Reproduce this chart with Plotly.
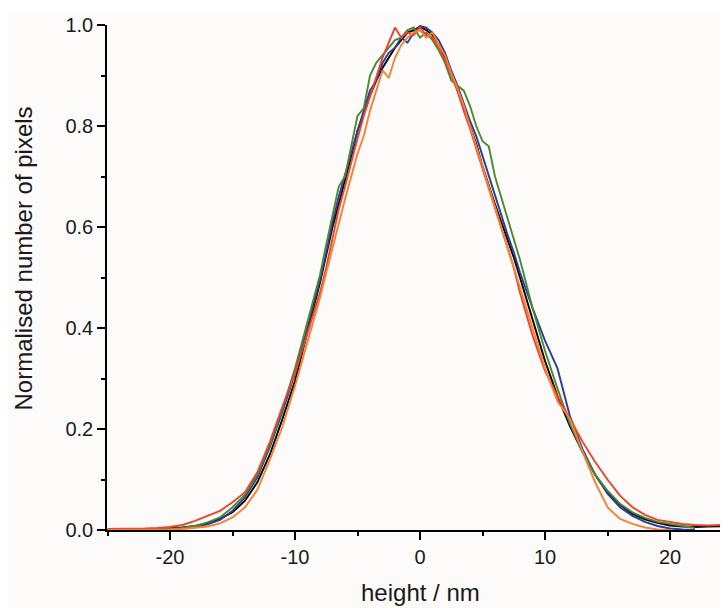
import plotly.graph_objects as go

# x grid (nm)
x_vals = [-25, -24, -23, -22, -21, -20, -19, -18, -17, -16, -15, -14, -13, -12, -11, -10, -9,
          -8, -7.5, -7, -6.5, -6, -5.5, -5, -4.5, -4, -3.5, -3, -2.5, -2, -1.5, -1, -0.5,
          0, 0.5, 1, 1.5, 2, 2.5, 3, 3.5, 4, 4.5, 5, 5.5, 6, 6.5, 7, 7.5, 8,
          9, 10, 11, 12, 13, 14, 15, 16, 17, 18, 19, 20, 21, 22, 23, 24, 25]

black_vals = [0.000, 0.000, 0.000, 0.001, 0.002, 0.003, 0.005, 0.008, 0.013, 0.022, 0.035, 0.058, 0.095, 0.15, 0.22, 0.295, 0.39,
              0.49, 0.545, 0.60, 0.645, 0.69, 0.74, 0.79, 0.825, 0.86, 0.89, 0.915, 0.935, 0.955, 0.97, 0.985, 0.99,
              0.997, 0.99, 0.98, 0.96, 0.935, 0.905, 0.87, 0.835, 0.80, 0.765, 0.72, 0.68, 0.645, 0.61, 0.575, 0.54, 0.50,
              0.415, 0.335, 0.265, 0.205, 0.155, 0.11, 0.075, 0.05, 0.032, 0.021, 0.014, 0.009, 0.007, 0.006, 0.007, 0.008, 0.008]

blue_vals = [0.0, 0.0, 0.0, 0.0, 0.001, 0.002, 0.003, 0.006, 0.011, 0.02, 0.038, 0.065, 0.105, 0.165, 0.235, 0.31, 0.40,
             0.495, 0.55, 0.61, 0.66, 0.705, 0.75, 0.79, 0.83, 0.87, 0.89, 0.925, 0.945, 0.955, 0.975, 0.965, 0.985,
             0.998, 0.995, 0.985, 0.97, 0.945, 0.91, 0.88, 0.845, 0.81, 0.78, 0.74, 0.70, 0.66, 0.62, 0.585, 0.55, 0.51,
             0.44, 0.375, 0.32, 0.225, 0.16, 0.11, 0.072, 0.045, 0.028, 0.016, 0.008, 0.003, 0.001, 0.0, None, None, None]

green_vals = [0.0, 0.0, 0.0, 0.0, 0.001, 0.002, 0.004, 0.008, 0.015, 0.025, 0.045, 0.07, 0.11, 0.17, 0.24, 0.32, 0.41,
              0.505, 0.565, 0.62, 0.68, 0.70, 0.76, 0.82, 0.835, 0.90, 0.925, 0.94, 0.955, 0.97, 0.975, 0.99, 0.995,
              0.975, 0.985, 0.97, 0.95, 0.925, 0.89, 0.88, 0.87, 0.84, 0.80, 0.77, 0.76, 0.70, 0.66, 0.62, 0.575, 0.535,
              0.44, 0.355, 0.28, 0.21, 0.155, 0.11, 0.078, 0.052, 0.035, 0.024, 0.016, 0.012, 0.009, 0.004, None, None, None]

red_vals = [0.002, 0.002, 0.002, 0.003, 0.004, 0.006, 0.01, 0.018, 0.028, 0.038, 0.055, 0.075, 0.115, 0.175, 0.245, 0.31, 0.39,
            0.47, 0.52, 0.58, 0.635, 0.68, 0.73, 0.775, 0.82, 0.86, 0.90, 0.935, 0.965, 0.995, 0.975, 0.985, 0.98,
            0.995, 0.98, 0.975, 0.955, 0.93, 0.90, 0.87, 0.83, 0.795, 0.755, 0.715, 0.675, 0.64, 0.60, 0.56, 0.52, 0.47,
            0.385, 0.315, 0.265, 0.22, 0.175, 0.135, 0.10, 0.068, 0.045, 0.03, 0.02, 0.016, 0.012, 0.01, 0.009, 0.01, 0.01]

orange_vals = [0.0, 0.0, 0.0, 0.0, 0.0, 0.001, 0.002, 0.004, 0.007, 0.013, 0.025, 0.045, 0.08, 0.14, 0.205, 0.285, 0.37,
               0.46, 0.51, 0.56, 0.61, 0.655, 0.70, 0.745, 0.78, 0.83, 0.87, 0.91, 0.895, 0.935, 0.96, 0.975, 0.985,
               0.99, 0.975, 0.985, 0.96, 0.94, 0.905, 0.875, 0.84, 0.80, 0.76, 0.72, 0.68, 0.64, 0.60, 0.56, 0.52, 0.475,
               0.395, 0.32, 0.255, 0.22, 0.155, 0.095, 0.045, 0.022, 0.012, 0.005, 0.001, 0.0, None, None, None, None, None]

x_tick_vals = [-20, -10, 0, 10, 20]
x_tick_text = ["-20", "-10", "0", "10", "20"]
y_tick_vals = [0.0, 0.2, 0.4, 0.6, 0.8, 1.0]
y_tick_text = ["0.0", "0.2", "0.4", "0.6", "0.8", "1.0"]

series = [
    ("black", black_vals, "#000000"),
    ("blue", blue_vals, "#2b3d9c"),
    ("green", green_vals, "#4b8a2e"),
    ("red", red_vals, "#ea4330"),
    ("orange", orange_vals, "#f8802e"),
]

FONT = "Arial, Liberation Sans, sans-serif"
BG = "#fcfbfa"

fig = go.Figure()
for name, vals, col in series:
    fig.add_trace(go.Scatter(x=x_vals, y=vals, mode="lines", name=name,
                             line=dict(color=col, width=1.9), connectgaps=False))

# page is offset by the 8px body margin, so the figure is 720x600
W, H = 720, 600
L, R, T, B = 99, 0, 17, 78

fig.update_layout(
    width=W, height=H,
    margin=dict(l=L, r=R, t=T, b=B, pad=0),
    paper_bgcolor=BG, plot_bgcolor=BG,
    showlegend=False,
    font=dict(family=FONT, color="#1a1a1a", size=20),
    xaxis=dict(range=[-25.04, 24.64], showgrid=False, zeroline=False,
               showline=True, linecolor="#000000", linewidth=1.5,
               ticks="outside", ticklen=8, tickwidth=1.5, tickcolor="#000000",
               tickvals=x_tick_vals, ticktext=x_tick_text,
               tickfont=dict(size=20, family=FONT, color="#1a1a1a"),
               minor=dict(ticks="outside", ticklen=4, tickwidth=1.5, tickcolor="#000000", dtick=5, tick0=0, showgrid=False)),
    yaxis=dict(range=[0, 1.0], showgrid=False, zeroline=False,
               showline=True, linecolor="#000000", linewidth=1.5,
               ticks="outside", ticklen=8, tickwidth=1.5, tickcolor="#000000",
               tickvals=y_tick_vals, ticktext=y_tick_text,
               tickfont=dict(size=20, family=FONT, color="#1a1a1a"),
               minor=dict(ticks="outside", ticklen=4, tickwidth=1.5, tickcolor="#000000", dtick=0.1, tick0=0, showgrid=False)),
)

pw = W - L - R
ph = H - T - B
# thin white strip at the top of the original picture
fig.add_shape(type="rect", xref="paper", yref="paper",
              x0=-L / pw, x1=(W - L) / pw, y0=1 + (T - 3) / ph, y1=1 + T / ph,
              fillcolor="#ffffff", line=dict(width=0), layer="below")

fig.add_annotation(text="height / nm", xref="paper", yref="paper",
                   x=(412 - L) / pw, y=0, yshift=-(584 - (H - B)), showarrow=False,
                   xanchor="center", yanchor="middle",
                   font=dict(size=24, family=FONT, color="#1a1a1a"))
fig.add_annotation(text="Normalised number of pixels", xref="paper", yref="paper",
                   x=0, xshift=15 - L, y=((H - B) - 250.5) / ph, showarrow=False,
                   textangle=-90, xanchor="center", yanchor="middle",
                   font=dict(size=24, family=FONT, color="#1a1a1a"))

fig.write_html("out.html")
